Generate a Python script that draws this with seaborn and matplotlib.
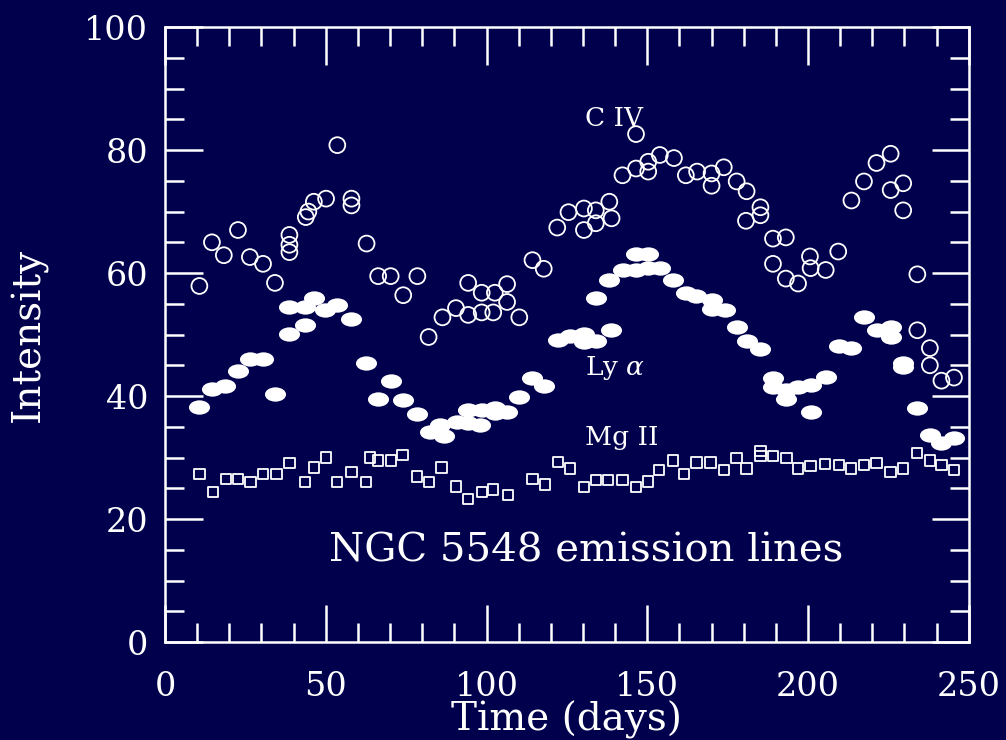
import numpy as np
import pandas as pd
import matplotlib
matplotlib.use("Agg")
import matplotlib.pyplot as plt
from matplotlib.path import Path
from matplotlib.transforms import Affine2D
from matplotlib.ticker import MultipleLocator
import seaborn as sns

# C IV (open circles)
civ_time = [10.7, 14.6, 18.3, 22.7, 26.4, 30.5, 34.2, 38.7, 38.7, 38.7,
            43.8, 44.6, 46.3, 50.1, 53.6, 58.0, 58.0, 62.7, 66.3, 70.2,
            74.1, 78.5, 82.0, 86.3, 90.5, 94.3, 94.3, 98.5, 98.5, 102.1,
            102.6, 106.4, 106.4, 110.2, 114.3, 117.8, 122.0, 125.5, 130.3, 130.3,
            134.0, 134.0, 138.2, 138.9, 142.3, 146.5, 146.5, 150.3, 150.3, 153.9,
            158.3, 162.0, 165.5, 170.0, 170.0, 173.8, 177.8, 180.9, 180.7, 185.2,
            185.2, 189.1, 193.1, 189.1, 193.1, 196.9, 200.6, 200.8, 205.5, 209.4,
            213.5, 217.4, 221.3, 225.7, 225.7, 229.6, 229.6, 234.0, 234.0, 237.9,
            237.9, 241.5, 245.4]
civ_flux = [57.9, 65.0, 62.9, 67.0, 62.6, 61.5, 58.4, 66.2, 64.6, 63.4,
            69.1, 70.0, 71.6, 72.1, 80.8, 72.1, 71.0, 64.8, 59.5, 59.5,
            56.4, 59.5, 49.6, 52.8, 54.3, 58.4, 53.2, 56.8, 53.6, 53.6,
            56.8, 58.2, 55.3, 52.8, 62.1, 60.7, 67.4, 69.9, 70.5, 67.0,
            70.2, 68.1, 71.6, 68.9, 75.9, 77.0, 82.6, 78.1, 76.5, 79.2,
            78.7, 75.9, 76.5, 76.2, 74.2, 77.2, 74.9, 73.3, 68.5, 70.7,
            69.4, 65.6, 65.8, 61.5, 59.1, 58.3, 62.7, 60.8, 60.5, 63.5,
            71.8, 74.9, 77.9, 79.4, 73.5, 74.6, 70.2, 59.8, 50.7, 47.8,
            45.0, 42.5, 43.0]

# Ly alpha (filled)
lya_time = [10.7, 14.5, 18.7, 22.8, 26.4, 30.4, 34.2, 38.7, 38.7, 43.5,
            43.5, 46.3, 49.8, 53.6, 58.0, 62.5, 66.3, 70.2, 74.1, 78.5,
            82.4, 85.5, 86.8, 90.7, 94.3, 94.3, 97.9, 98.5, 102.6, 102.6,
            106.4, 110.2, 114.0, 117.8, 122.3, 125.9, 130.3, 130.3, 134.0, 138.6,
            134.0, 138.2, 142.5, 146.5, 146.5, 150.3, 150.3, 153.9, 158.1, 162.0,
            165.3, 170.0, 170.0, 174.1, 177.8, 180.9, 185.2, 189.1, 189.1, 193.1,
            193.1, 196.9, 200.8, 200.8, 205.5, 209.6, 213.5, 217.4, 221.3, 225.7,
            225.7, 229.6, 229.6, 234.0, 237.9, 241.5, 245.4]
lya_flux = [38.2, 41.1, 41.7, 44.0, 46.0, 46.0, 40.3, 50.1, 54.4, 54.4,
            51.5, 55.9, 54.0, 54.8, 52.5, 45.3, 39.6, 42.4, 39.3, 37.1,
            34.2, 35.3, 33.5, 35.8, 37.7, 35.6, 35.3, 37.7, 38.0, 37.2,
            37.4, 39.9, 42.9, 41.7, 49.1, 49.8, 50.1, 48.8, 49.0, 50.8,
            55.9, 58.8, 60.5, 63.1, 60.5, 63.1, 60.8, 60.9, 58.8, 56.8,
            56.3, 55.6, 54.1, 54.0, 51.2, 49.0, 47.6, 42.9, 41.5, 41.0,
            39.5, 41.5, 41.8, 37.4, 43.1, 48.1, 47.8, 52.8, 50.7, 51.2,
            49.6, 45.3, 44.7, 38.0, 33.7, 32.3, 33.1]

# Mg II (open squares)
mg_time = [10.7, 15.0, 19.0, 22.8, 26.6, 30.4, 34.7, 38.7, 43.5, 46.3,
           50.1, 53.6, 58.0, 62.5, 63.7, 66.3, 70.2, 73.9, 78.3, 82.2,
           86.0, 90.5, 94.3, 98.5, 102.1, 106.7, 114.3, 118.2, 122.3, 125.9,
           130.3, 134.0, 137.8, 142.3, 146.5, 150.3, 153.7, 158.1, 161.4, 165.3,
           169.7, 173.8, 177.8, 180.9, 185.2, 185.2, 189.1, 193.3, 196.9, 200.8,
           205.2, 209.6, 213.3, 217.4, 221.3, 225.7, 229.6, 234.0, 237.9, 241.5,
           245.4]
mg_flux = [27.3, 24.4, 26.5, 26.5, 26.0, 27.3, 27.3, 29.1, 26.0, 28.4,
           30.0, 26.0, 27.7, 26.0, 30.0, 29.5, 29.5, 30.4, 26.9, 26.0,
           28.4, 25.3, 23.3, 24.4, 24.8, 23.9, 26.5, 25.6, 29.3, 28.2,
           25.2, 26.3, 26.3, 26.3, 25.2, 26.1, 28.0, 29.5, 27.3, 29.2,
           29.2, 28.0, 29.9, 28.2, 31.1, 30.2, 30.2, 29.9, 28.2, 28.6,
           29.0, 28.8, 28.2, 28.8, 29.1, 27.7, 28.2, 30.7, 29.5, 28.8,
           28.0]

BG = '#00004c'
FG = 'white'

sns.set_style("ticks")
plt.rcParams['font.family'] = ['DejaVu Serif']
plt.rcParams['mathtext.fontset'] = 'dejavuserif'

civ = pd.DataFrame({'time': civ_time, 'flux': civ_flux})
lya = pd.DataFrame({'time': lya_time, 'flux': lya_flux})
mg = pd.DataFrame({'time': mg_time, 'flux': mg_flux})

fig = plt.figure(figsize=(10.06, 7.40), dpi=100, facecolor=BG)
ax = fig.add_axes([0.164, 0.1324, 0.799, 0.831])
ax.set_facecolor(BG)

# flattened ellipse marker for Ly alpha
ellipse = Path.unit_circle().transformed(Affine2D().scale(1.0, 0.68))

sns.scatterplot(data=civ, x='time', y='flux', ax=ax, marker='o', s=130,
                facecolor='none', edgecolor=FG, linewidth=1.3)
sns.scatterplot(data=lya, x='time', y='flux', ax=ax, marker=ellipse, s=230,
                color=FG, edgecolor=FG, linewidth=0)
sns.scatterplot(data=mg, x='time', y='flux', ax=ax, marker='s', s=55,
                facecolor='none', edgecolor=FG, linewidth=1.3)

ax.set_xlim(0, 250)
ax.set_ylim(0, 100)
ax.xaxis.set_major_locator(MultipleLocator(50))
ax.xaxis.set_minor_locator(MultipleLocator(10))
ax.yaxis.set_major_locator(MultipleLocator(20))
ax.yaxis.set_minor_locator(MultipleLocator(5))
ax.tick_params(which='both', direction='in', top=True, right=True,
               colors=FG, width=1.8)
ax.tick_params(which='major', length=27, labelsize=24)
ax.tick_params(axis='x', which='major', pad=21)
ax.tick_params(axis='y', which='major', pad=12)
ax.tick_params(which='minor', length=14)
for sp in ax.spines.values():
    sp.set_visible(True)
    sp.set_color(FG)
    sp.set_linewidth(1.8)

ax.set_xlabel('Time (days)', color=FG, fontsize=28)
ax.xaxis.set_label_coords(0.5, -0.0945)
ax.set_ylabel('Intensity', color=FG, fontsize=28, labelpad=26)

ax.text(51, 14.8, 'NGC 5548 emission lines', color=FG, fontsize=29,
        va='center', ha='left')
ax.text(130.6, 85.2, 'C IV', color=FG, fontsize=19, va='center', ha='left')
ax.text(130.6, 44.6, r'Ly $\alpha$', color=FG, fontsize=19, va='center', ha='left')
ax.text(130.6, 33.2, 'Mg II', color=FG, fontsize=19, va='center', ha='left')

fig.savefig('out.png', dpi=100, facecolor=BG)
